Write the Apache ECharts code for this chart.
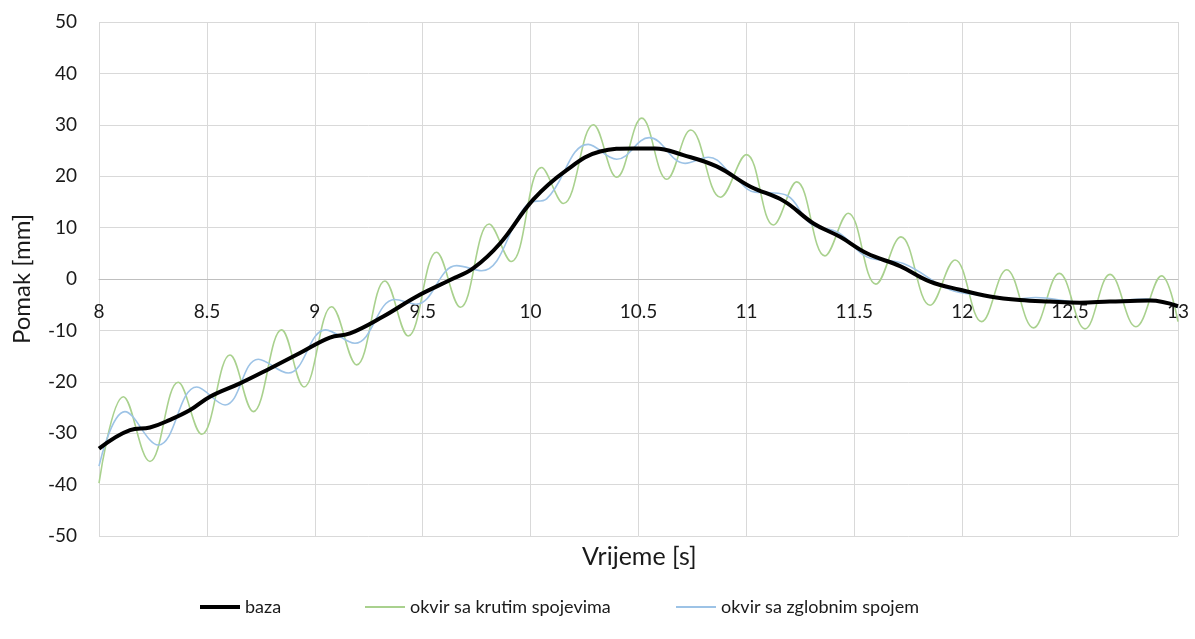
<!DOCTYPE html>
<html>
<head>
<meta charset="utf-8">
<script src="https://cdn.jsdelivr.net/npm/echarts@6/dist/echarts.min.js"></script>
<style>html,body{margin:0;padding:0;background:#fff}#c{width:1195px;height:639px}</style>
</head>
<body>
<div id="c"></div>
<script>
// baza
const bazaT = [8.000,8.144,8.236,8.329,8.422,8.514,8.653,8.792,8.931,9.070,9.163,9.317,9.472,9.627,9.735,9.858,10.013,10.167,10.322,10.476,10.577,10.708,10.862,11.017,11.172,11.311,11.434,11.558,11.712,11.851,11.990,12.128,12.267,12.406,12.545,12.684,12.870,13.000];
const bazaV = [-33.0,-29.4,-28.9,-27.4,-25.5,-22.9,-20.3,-17.4,-14.4,-11.4,-10.6,-7.3,-3.4,-0.2,2.1,6.9,15.5,21.2,24.8,25.4,25.4,24.1,21.9,18.0,15.2,10.8,8.2,5.0,2.5,-0.5,-2.1,-3.4,-4.1,-4.4,-4.6,-4.4,-4.2,-5.3];
// okvir sa krutim spojevima
const krutiT = [8.000,8.113,8.236,8.367,8.476,8.607,8.715,8.846,8.950,9.078,9.194,9.325,9.433,9.564,9.675,9.808,9.910,10.051,10.152,10.291,10.399,10.515,10.631,10.742,10.880,11.000,11.125,11.233,11.364,11.472,11.600,11.716,11.851,11.967,12.090,12.206,12.330,12.450,12.569,12.685,12.805,12.924,13.000];
const krutiV = [-39.7,-22.9,-35.5,-20.1,-30.2,-14.8,-25.8,-9.9,-21.0,-5.4,-16.7,-0.4,-11.1,5.2,-5.5,10.7,3.4,21.7,14.7,30.0,19.8,31.3,19.4,29.0,15.9,24.2,10.5,18.9,4.5,12.8,-1.0,8.2,-5.1,3.7,-8.3,1.8,-9.5,1.1,-9.7,0.9,-9.3,0.6,-8.3];
// okvir sa zglobnim spojem
const zglobT = [8.000,8.120,8.275,8.453,8.584,8.738,8.877,9.050,9.186,9.370,9.470,9.657,9.773,9.990,10.074,10.267,10.399,10.550,10.716,10.824,10.940,11.040,11.100,11.190,11.297,11.427,11.558,11.727,11.944,12.100,12.250,12.340,12.550,12.700,12.850,13.000];
const zglobV = [-36.4,-25.8,-32.3,-21.0,-24.5,-15.6,-18.3,-9.9,-12.5,-4.0,-4.9,2.6,1.6,14.7,15.6,26.2,23.3,27.5,22.5,23.7,20.0,16.9,16.8,16.2,10.8,9.0,4.3,3.0,-2.1,-3.2,-3.9,-3.6,-4.5,-4.3,-3.9,-5.5];

const names = ['baza','okvir sa krutim spojevima','okvir sa zglobnim spojem'];
const colors = ['#000000','#a9d18e','#9dc3e6'];
const xTitle = 'Vrijeme [s]';
const yTitle = 'Pomak [mm]';
const pairs = (t,v) => t.map((x,i)=>[x,v[i]]);
const FONT = 'Lato';
const TXT = '#1a1a1a';
const legendLeft = [195, 360, 671];
const legendH = [4, 2, 2];
const chart = echarts.init(document.getElementById('c'), null, {renderer:'canvas'});
chart.setOption({
  animation:false,
  backgroundColor:'#fff',
  textStyle:{fontFamily:FONT},
  grid:{left:99,right:17,top:22,bottom:103,containLabel:false},
  legend: names.map((n,i)=>({
    data:[{name:n, icon:'rect', itemStyle:{color:colors[i]}}],
    left:legendLeft[i], top:593, itemWidth:40, itemHeight:legendH[i], itemGap:0,
    selectedMode:false,
    textStyle:{fontFamily:FONT,fontSize:18,color:TXT}
  })),
  graphic:[{
    type:'text', left:582, top:544,
    style:{text:xTitle, font:'25px Lato', fill:TXT}
  }],
  xAxis:{
    type:'value', min:8, max:13, interval:0.5,
    position:'bottom', offset:-257,
    axisLine:{show:true,onZero:false,lineStyle:{color:'#bfbfbf',width:1}},
    axisTick:{show:false},
    axisLabel:{fontFamily:FONT,fontSize:19,color:TXT,margin:23,showMinLabel:true,showMaxLabel:true},
    splitLine:{show:true,lineStyle:{color:'#d9d9d9',width:1}}
  },
  yAxis:{
    type:'value', min:-50, max:50, interval:10,
    axisLine:{show:false}, axisTick:{show:false},
    axisLabel:{fontFamily:FONT,fontSize:19,color:TXT,margin:22},
    splitLine:{show:true,lineStyle:{color:'#d9d9d9',width:1}},
    name:yTitle, nameLocation:'middle', nameGap:65, nameRotate:90,
    nameTextStyle:{fontFamily:FONT,fontSize:24,color:TXT}
  },
  series:[
    {name:names[0],type:'line',data:pairs(bazaT,bazaV),smooth:0.4,symbol:'none',z:5,
     lineStyle:{color:colors[0],width:4},itemStyle:{color:colors[0]}},
    {name:names[1],type:'line',data:pairs(krutiT,krutiV),smooth:0.4,symbol:'none',z:3,
     lineStyle:{color:colors[1],width:1.6},itemStyle:{color:colors[1]}},
    {name:names[2],type:'line',data:pairs(zglobT,zglobV),smooth:0.4,symbol:'none',z:4,
     lineStyle:{color:colors[2],width:1.6},itemStyle:{color:colors[2]}}
  ]
});
</script>
</body>
</html>
